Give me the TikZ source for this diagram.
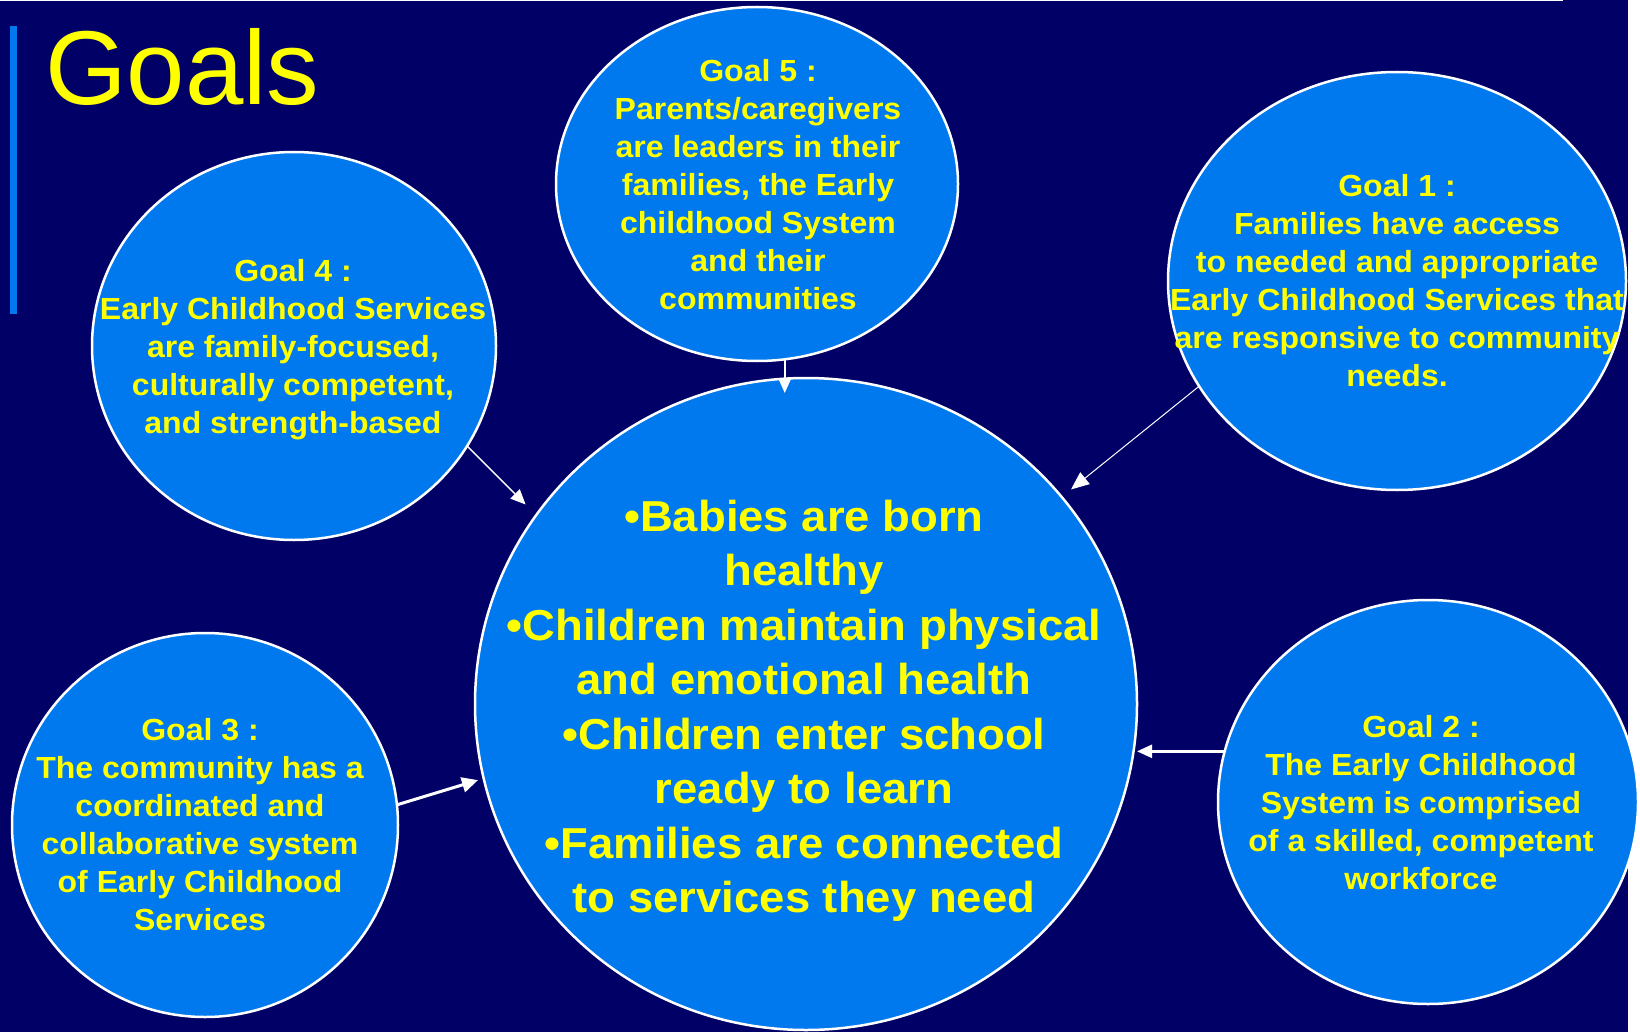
\documentclass[tikz,border=0pt]{standalone}
\usepackage{fontspec}
\setmainfont{Liberation Sans}
\newfontfamily\goalfont{Liberation Sans}[FakeStretch=1.05]
\usetikzlibrary{arrows.meta,shapes.geometric,calc}
\definecolor{slidebg}{RGB}{0,0,102}
\definecolor{bubbleblue}{RGB}{0,120,238}
\definecolor{goalyellow}{RGB}{255,255,0}
\tikzset{
    bubble/.style={ellipse,draw=white,line width=2.5pt,fill=bubbleblue,inner sep=0pt,outer sep=0pt},
    goaltext/.style={text=goalyellow,align=center,inner sep=0pt,font=\goalfont\bfseries\fontsize{30.5}{38}\selectfont},
    aim/.style={white,line width=#1,-{Triangle[length=15pt,width=13pt]}}
}
\begin{document}
\begin{tikzpicture}[x=1pt,y=-1pt]
\useasboundingbox (0,0) rectangle (1640,1032);
\fill[white] (0,0) rectangle (1640,1032);
\fill[slidebg] (0,0) rectangle (1628,1032);
\draw[white,line width=1.5pt] (0,0.75) -- (1563,0.75);
\fill[bubbleblue] (10,26) rectangle (17,314);
\node[anchor=base west,text=goalyellow,inner sep=0pt,font=\fontsize{105}{110}\selectfont] (title) at (45,105) {Goals};
% bubbles
\node[bubble,minimum width=662pt,minimum height=652pt] (c) at (806,704) {};
\node[bubble,minimum width=402pt,minimum height=354pt] (g5) at (757,184) {};
\node[bubble,minimum width=404pt,minimum height=388pt] (g4) at (294,346) {};
\node[bubble,minimum width=458pt,minimum height=418pt] (g1) at (1397,281) {};
\node[bubble,minimum width=420pt,minimum height=404pt] (g2) at (1428,802) {};
\node[bubble,minimum width=386pt,minimum height=384pt] (g3) at (205,825) {};
% arrows into the centre
\draw[aim=1.7pt,shorten >=-15pt] (g5.-81) -- (g5.-81 |- c.north);
\draw[aim=1.5pt,shorten >=15pt] (g4.-30) -- (c.145);
\draw[aim=1pt,shorten >=12pt,-{Triangle[length=18pt,width=15pt]}] (g1.-152) -- (c.39);
\draw[aim=2.5pt] (g2.166) -- (g2.166 -| c.east);
\draw[aim=3pt,shorten >=6pt,-{Triangle[length=16pt,width=15pt]}] (g3.6) -- (c.-167);
% texts
\node[goaltext] (t5) at (758,185) {Goal 5 :\\Parents/caregivers\\are leaders in their\\families, the Early\\childhood System\\and their\\communities};
\node[goaltext] (t4) at (293,350) {Goal 4 :\\Early Childhood Services\\are family-focused,\\culturally competent,\\and strength-based};
\node[goaltext] (t1) at (1397,281) {Goal 1 :\\Families have access\\to needed and appropriate\\Early Childhood Services that\\are responsive to community\\needs.};
\node[goaltext] (t2) at (1421,803) {Goal 2 :\\The Early Childhood\\System is comprised\\of a skilled, competent\\workforce};
\node[goaltext] (t3) at (200,825) {Goal 3 :\\The community has a\\coordinated and\\collaborative system\\of Early Childhood\\Services};
\node[goaltext,font=\goalfont\bfseries\fontsize{43.3}{54.5}\selectfont] (tc) at (804,711) {•Babies are born\\healthy\\•Children maintain physical\\and emotional health\\•Children enter school\\ready to learn\\•Families are connected\\to services they need};
\end{tikzpicture}
\end{document}
